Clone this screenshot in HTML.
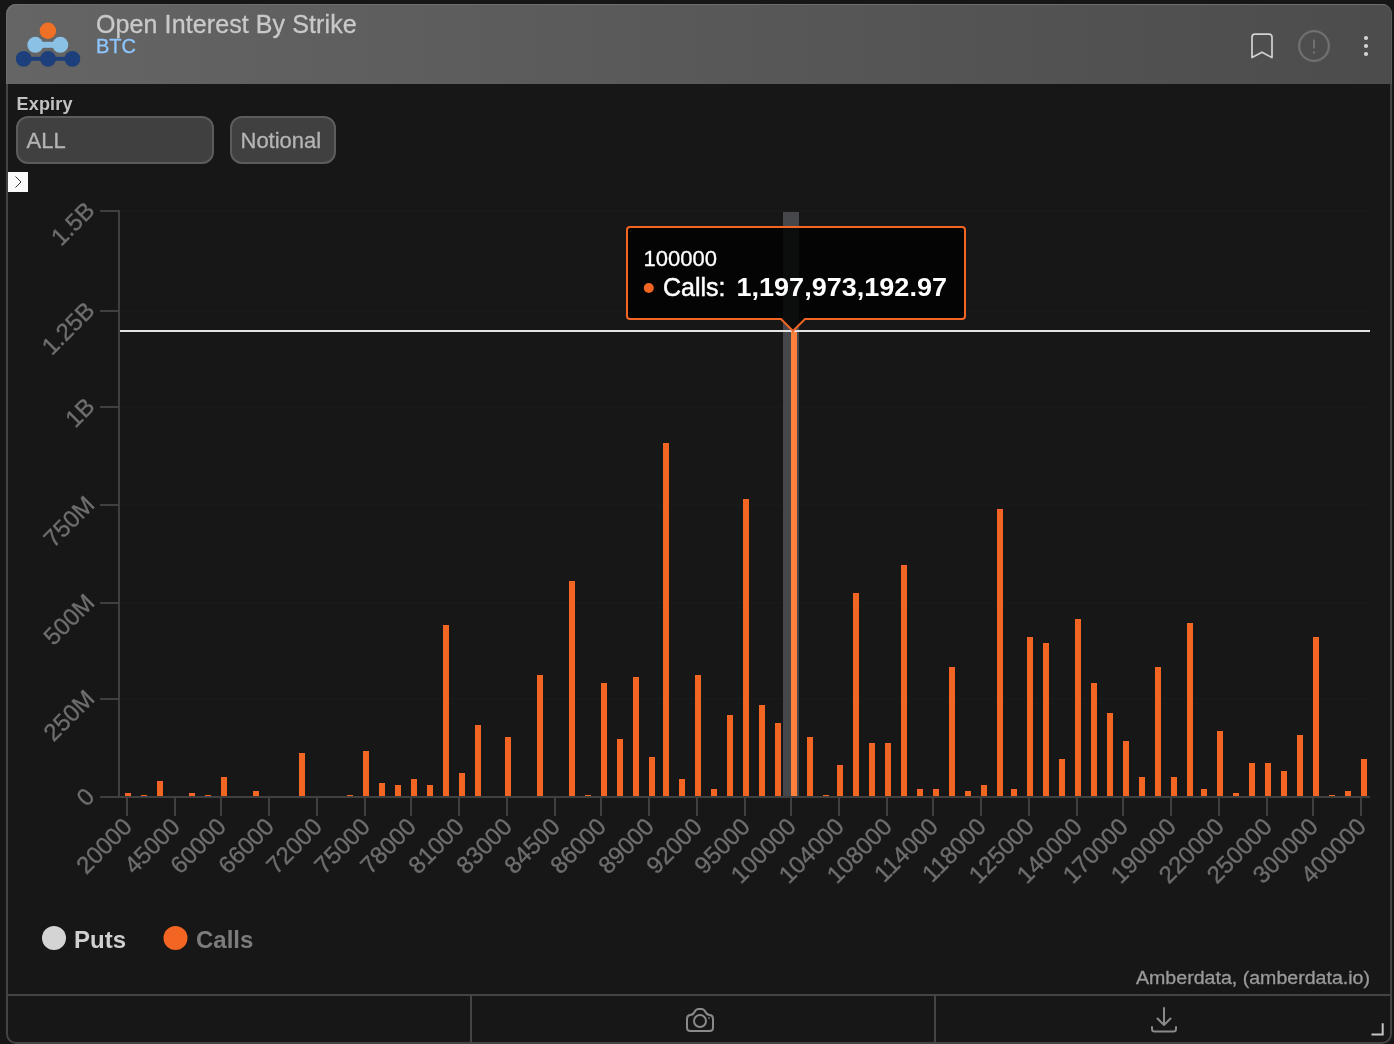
<!DOCTYPE html>
<html><head><meta charset="utf-8"><title>Open Interest By Strike</title>
<style>
html,body{margin:0;padding:0;}
body{width:1394px;height:1044px;overflow:hidden;background:#161616;font-family:"Liberation Sans",sans-serif;position:relative;}
.card{position:absolute;left:6px;top:4px;width:1386px;height:1040px;box-sizing:border-box;border:2px solid #444;border-radius:10px;background:#171717;overflow:hidden;}
.hdr{position:absolute;left:6px;top:4px;width:1386px;height:80px;border-radius:10px 10px 0 0;background:linear-gradient(90deg,#656565 0%,#4c4c4c 100%);box-shadow:inset 1px 1px 0 #6e6e6e, inset -1px 0 0 #5a5a5a;}
.title{-webkit-text-stroke:0.3px;position:absolute;left:96px;top:10px;font-size:25px;letter-spacing:0.1px;color:#c9c9c9;white-space:nowrap;line-height:28px;}
.sub{-webkit-text-stroke:0.3px;position:absolute;left:96px;top:35px;font-size:20px;color:#8ec6ff;white-space:nowrap;line-height:22px;}
.lbl{position:absolute;left:16.5px;top:94px;font-size:18px;letter-spacing:0.2px;font-weight:bold;color:#c2c2c2;line-height:20px;}
.sel{-webkit-text-stroke:0.3px;position:absolute;top:116px;height:48px;box-sizing:border-box;border:2px solid #5c5c5c;border-radius:12px;background:#404040;color:#b4b4b4;font-size:22px;line-height:45px;padding-left:8.5px;white-space:nowrap;}
.exp{position:absolute;left:8px;top:172px;width:20px;height:20px;background:#fafafa;}
.hline{position:absolute;left:8px;top:994px;width:1382px;height:2px;background:#444;}
.vline{position:absolute;top:996px;width:2px;height:46px;background:#444;}
</style></head><body>
<div id="root" style="position:absolute;left:0;top:0;width:1394px;height:1044px;will-change:transform;">
<div class="card"></div>
<div class="hdr"></div>
<svg width="100" height="90" style="position:absolute;left:0;top:0">
 <g fill="#1d3f7b"><circle cx="23.7" cy="58.8" r="7.9"/><circle cx="48" cy="58.8" r="7.9"/><circle cx="72.4" cy="58.8" r="7.9"/><rect x="23.7" y="56.8" width="48.7" height="4"/></g>
 <g fill="#8cc1e6"><circle cx="35.3" cy="44.8" r="8"/><circle cx="60.3" cy="44.8" r="8"/><rect x="35.3" y="41.8" width="25" height="6"/></g>
 <circle cx="47.9" cy="30.8" r="8.2" fill="#f07025"/>
</svg>
<div class="title">Open Interest By Strike</div>
<div class="sub">BTC</div>
<svg width="160" height="84" style="position:absolute;left:1234px;top:0" fill="none">
 <path d="M18 57.6 V37.2 Q18 34.2 21 34.2 H35 Q38 34.2 38 37.2 V57.6 L28 52.2 Z" stroke="#d2d2d2" stroke-width="1.7" stroke-linejoin="round"/>
 <circle cx="80" cy="46" r="14.9" stroke="#707070" stroke-width="2.3"/>
 <rect x="79" y="39.5" width="2" height="9" fill="#6f6f6f"/><circle cx="80" cy="52.5" r="1.3" fill="#6f6f6f"/>
 <circle cx="132" cy="38" r="2.1" fill="#d6d6d6"/><circle cx="132" cy="46" r="2.1" fill="#d6d6d6"/><circle cx="132" cy="54" r="2.1" fill="#d6d6d6"/>
</svg>
<div class="lbl">Expiry</div>
<div class="sel" style="left:16px;width:198px;">ALL</div>
<div class="sel" style="left:230px;width:106px;">Notional</div>
<div class="exp"><svg width="20" height="20"><path d="M7.5 4.5 L13 10 L7.5 15.5" stroke="#333" stroke-width="1" fill="none"/></svg></div>
<svg id="chart" width="1394" height="1044" viewBox="0 0 1394 1044" style="position:absolute;left:0;top:0;will-change:transform" font-family="Liberation Sans, sans-serif">
<rect x="120" y="210" width="1250" height="2" fill="#191919"/>
<rect x="120" y="310" width="1250" height="2" fill="#191919"/>
<rect x="120" y="406" width="1250" height="2" fill="#191919"/>
<rect x="120" y="504" width="1250" height="2" fill="#191919"/>
<rect x="120" y="602" width="1250" height="2" fill="#191919"/>
<rect x="120" y="698" width="1250" height="2" fill="#191919"/>
<rect x="783" y="212" width="16" height="584" fill="#46474b"/>
<rect x="125" y="793" width="6" height="3" fill="#f36523"/>
<rect x="141" y="795" width="6" height="1" fill="#f36523"/>
<rect x="157" y="781" width="6" height="15" fill="#f36523"/>
<rect x="189" y="793" width="6" height="3" fill="#f36523"/>
<rect x="205" y="795" width="6" height="1" fill="#f36523"/>
<rect x="221" y="777" width="6" height="19" fill="#f36523"/>
<rect x="253" y="791" width="6" height="5" fill="#f36523"/>
<rect x="299" y="753" width="6" height="43" fill="#f36523"/>
<rect x="347" y="795" width="6" height="1" fill="#f36523"/>
<rect x="363" y="751" width="6" height="45" fill="#f36523"/>
<rect x="379" y="783" width="6" height="13" fill="#f36523"/>
<rect x="395" y="785" width="6" height="11" fill="#f36523"/>
<rect x="411" y="779" width="6" height="17" fill="#f36523"/>
<rect x="427" y="785" width="6" height="11" fill="#f36523"/>
<rect x="443" y="625" width="6" height="171" fill="#f36523"/>
<rect x="459" y="773" width="6" height="23" fill="#f36523"/>
<rect x="475" y="725" width="6" height="71" fill="#f36523"/>
<rect x="505" y="737" width="6" height="59" fill="#f36523"/>
<rect x="537" y="675" width="6" height="121" fill="#f36523"/>
<rect x="569" y="581" width="6" height="215" fill="#f36523"/>
<rect x="585" y="795" width="6" height="1" fill="#f36523"/>
<rect x="601" y="683" width="6" height="113" fill="#f36523"/>
<rect x="617" y="739" width="6" height="57" fill="#f36523"/>
<rect x="633" y="677" width="6" height="119" fill="#f36523"/>
<rect x="649" y="757" width="6" height="39" fill="#f36523"/>
<rect x="663" y="443" width="6" height="353" fill="#f36523"/>
<rect x="679" y="779" width="6" height="17" fill="#f36523"/>
<rect x="695" y="675" width="6" height="121" fill="#f36523"/>
<rect x="711" y="789" width="6" height="7" fill="#f36523"/>
<rect x="727" y="715" width="6" height="81" fill="#f36523"/>
<rect x="743" y="499" width="6" height="297" fill="#f36523"/>
<rect x="759" y="705" width="6" height="91" fill="#f36523"/>
<rect x="775" y="723" width="6" height="73" fill="#f36523"/>
<rect x="791" y="331" width="6" height="465" fill="#ff7f3d"/>
<rect x="807" y="737" width="6" height="59" fill="#f36523"/>
<rect x="823" y="795" width="6" height="1" fill="#f36523"/>
<rect x="837" y="765" width="6" height="31" fill="#f36523"/>
<rect x="853" y="593" width="6" height="203" fill="#f36523"/>
<rect x="869" y="743" width="6" height="53" fill="#f36523"/>
<rect x="885" y="743" width="6" height="53" fill="#f36523"/>
<rect x="901" y="565" width="6" height="231" fill="#f36523"/>
<rect x="917" y="789" width="6" height="7" fill="#f36523"/>
<rect x="933" y="789" width="6" height="7" fill="#f36523"/>
<rect x="949" y="667" width="6" height="129" fill="#f36523"/>
<rect x="965" y="791" width="6" height="5" fill="#f36523"/>
<rect x="981" y="785" width="6" height="11" fill="#f36523"/>
<rect x="997" y="509" width="6" height="287" fill="#f36523"/>
<rect x="1011" y="789" width="6" height="7" fill="#f36523"/>
<rect x="1027" y="637" width="6" height="159" fill="#f36523"/>
<rect x="1043" y="643" width="6" height="153" fill="#f36523"/>
<rect x="1059" y="759" width="6" height="37" fill="#f36523"/>
<rect x="1075" y="619" width="6" height="177" fill="#f36523"/>
<rect x="1091" y="683" width="6" height="113" fill="#f36523"/>
<rect x="1107" y="713" width="6" height="83" fill="#f36523"/>
<rect x="1123" y="741" width="6" height="55" fill="#f36523"/>
<rect x="1139" y="777" width="6" height="19" fill="#f36523"/>
<rect x="1155" y="667" width="6" height="129" fill="#f36523"/>
<rect x="1171" y="777" width="6" height="19" fill="#f36523"/>
<rect x="1187" y="623" width="6" height="173" fill="#f36523"/>
<rect x="1201" y="789" width="6" height="7" fill="#f36523"/>
<rect x="1217" y="731" width="6" height="65" fill="#f36523"/>
<rect x="1233" y="793" width="6" height="3" fill="#f36523"/>
<rect x="1249" y="763" width="6" height="33" fill="#f36523"/>
<rect x="1265" y="763" width="6" height="33" fill="#f36523"/>
<rect x="1281" y="771" width="6" height="25" fill="#f36523"/>
<rect x="1297" y="735" width="6" height="61" fill="#f36523"/>
<rect x="1313" y="637" width="6" height="159" fill="#f36523"/>
<rect x="1329" y="795" width="6" height="1" fill="#f36523"/>
<rect x="1345" y="791" width="6" height="5" fill="#f36523"/>
<rect x="1361" y="759" width="6" height="37" fill="#f36523"/>
<rect x="118" y="210" width="2" height="588" fill="#404040"/>
<rect x="100" y="796" width="1270" height="2" fill="#404040"/>
<rect x="100" y="210" width="20" height="2" fill="#404040"/>
<rect x="100" y="310" width="20" height="2" fill="#404040"/>
<rect x="100" y="406" width="20" height="2" fill="#404040"/>
<rect x="100" y="504" width="20" height="2" fill="#404040"/>
<rect x="100" y="602" width="20" height="2" fill="#404040"/>
<rect x="100" y="698" width="20" height="2" fill="#404040"/>
<rect x="126" y="798" width="2" height="18" fill="#404040"/>
<rect x="174" y="798" width="2" height="18" fill="#404040"/>
<rect x="220" y="798" width="2" height="18" fill="#404040"/>
<rect x="268" y="798" width="2" height="18" fill="#404040"/>
<rect x="316" y="798" width="2" height="18" fill="#404040"/>
<rect x="364" y="798" width="2" height="18" fill="#404040"/>
<rect x="410" y="798" width="2" height="18" fill="#404040"/>
<rect x="458" y="798" width="2" height="18" fill="#404040"/>
<rect x="506" y="798" width="2" height="18" fill="#404040"/>
<rect x="554" y="798" width="2" height="18" fill="#404040"/>
<rect x="600" y="798" width="2" height="18" fill="#404040"/>
<rect x="648" y="798" width="2" height="18" fill="#404040"/>
<rect x="696" y="798" width="2" height="18" fill="#404040"/>
<rect x="744" y="798" width="2" height="18" fill="#404040"/>
<rect x="790" y="798" width="2" height="18" fill="#404040"/>
<rect x="838" y="798" width="2" height="18" fill="#404040"/>
<rect x="886" y="798" width="2" height="18" fill="#404040"/>
<rect x="932" y="798" width="2" height="18" fill="#404040"/>
<rect x="980" y="798" width="2" height="18" fill="#404040"/>
<rect x="1028" y="798" width="2" height="18" fill="#404040"/>
<rect x="1076" y="798" width="2" height="18" fill="#404040"/>
<rect x="1122" y="798" width="2" height="18" fill="#404040"/>
<rect x="1170" y="798" width="2" height="18" fill="#404040"/>
<rect x="1218" y="798" width="2" height="18" fill="#404040"/>
<rect x="1266" y="798" width="2" height="18" fill="#404040"/>
<rect x="1312" y="798" width="2" height="18" fill="#404040"/>
<rect x="1360" y="798" width="2" height="18" fill="#404040"/>
<text x="96" y="212" text-anchor="end" font-size="24" fill="#6e6e6e" stroke="#6e6e6e" stroke-width="0.35" transform="rotate(-45 96 212)">1.5B</text>
<text x="96" y="312" text-anchor="end" font-size="24" fill="#6e6e6e" stroke="#6e6e6e" stroke-width="0.35" transform="rotate(-45 96 312)">1.25B</text>
<text x="96" y="408" text-anchor="end" font-size="24" fill="#6e6e6e" stroke="#6e6e6e" stroke-width="0.35" transform="rotate(-45 96 408)">1B</text>
<text x="96" y="506" text-anchor="end" font-size="24" fill="#6e6e6e" stroke="#6e6e6e" stroke-width="0.35" transform="rotate(-45 96 506)">750M</text>
<text x="96" y="604" text-anchor="end" font-size="24" fill="#6e6e6e" stroke="#6e6e6e" stroke-width="0.35" transform="rotate(-45 96 604)">500M</text>
<text x="96" y="700" text-anchor="end" font-size="24" fill="#6e6e6e" stroke="#6e6e6e" stroke-width="0.35" transform="rotate(-45 96 700)">250M</text>
<text x="96" y="798" text-anchor="end" font-size="24" fill="#6e6e6e" stroke="#6e6e6e" stroke-width="0.35" transform="rotate(-45 96 798)">0</text>
<text x="133.5" y="828" text-anchor="end" font-size="24" fill="#6e6e6e" stroke="#6e6e6e" stroke-width="0.35" transform="rotate(-45 133.5 828)">20000</text>
<text x="181.5" y="828" text-anchor="end" font-size="24" fill="#6e6e6e" stroke="#6e6e6e" stroke-width="0.35" transform="rotate(-45 181.5 828)">45000</text>
<text x="227.5" y="828" text-anchor="end" font-size="24" fill="#6e6e6e" stroke="#6e6e6e" stroke-width="0.35" transform="rotate(-45 227.5 828)">60000</text>
<text x="275.5" y="828" text-anchor="end" font-size="24" fill="#6e6e6e" stroke="#6e6e6e" stroke-width="0.35" transform="rotate(-45 275.5 828)">66000</text>
<text x="323.5" y="828" text-anchor="end" font-size="24" fill="#6e6e6e" stroke="#6e6e6e" stroke-width="0.35" transform="rotate(-45 323.5 828)">72000</text>
<text x="371.5" y="828" text-anchor="end" font-size="24" fill="#6e6e6e" stroke="#6e6e6e" stroke-width="0.35" transform="rotate(-45 371.5 828)">75000</text>
<text x="417.5" y="828" text-anchor="end" font-size="24" fill="#6e6e6e" stroke="#6e6e6e" stroke-width="0.35" transform="rotate(-45 417.5 828)">78000</text>
<text x="465.5" y="828" text-anchor="end" font-size="24" fill="#6e6e6e" stroke="#6e6e6e" stroke-width="0.35" transform="rotate(-45 465.5 828)">81000</text>
<text x="513.5" y="828" text-anchor="end" font-size="24" fill="#6e6e6e" stroke="#6e6e6e" stroke-width="0.35" transform="rotate(-45 513.5 828)">83000</text>
<text x="561.5" y="828" text-anchor="end" font-size="24" fill="#6e6e6e" stroke="#6e6e6e" stroke-width="0.35" transform="rotate(-45 561.5 828)">84500</text>
<text x="607.5" y="828" text-anchor="end" font-size="24" fill="#6e6e6e" stroke="#6e6e6e" stroke-width="0.35" transform="rotate(-45 607.5 828)">86000</text>
<text x="655.5" y="828" text-anchor="end" font-size="24" fill="#6e6e6e" stroke="#6e6e6e" stroke-width="0.35" transform="rotate(-45 655.5 828)">89000</text>
<text x="703.5" y="828" text-anchor="end" font-size="24" fill="#6e6e6e" stroke="#6e6e6e" stroke-width="0.35" transform="rotate(-45 703.5 828)">92000</text>
<text x="751.5" y="828" text-anchor="end" font-size="24" fill="#6e6e6e" stroke="#6e6e6e" stroke-width="0.35" transform="rotate(-45 751.5 828)">95000</text>
<text x="797.5" y="828" text-anchor="end" font-size="24" fill="#6e6e6e" stroke="#6e6e6e" stroke-width="0.35" transform="rotate(-45 797.5 828)">100000</text>
<text x="845.5" y="828" text-anchor="end" font-size="24" fill="#6e6e6e" stroke="#6e6e6e" stroke-width="0.35" transform="rotate(-45 845.5 828)">104000</text>
<text x="893.5" y="828" text-anchor="end" font-size="24" fill="#6e6e6e" stroke="#6e6e6e" stroke-width="0.35" transform="rotate(-45 893.5 828)">108000</text>
<text x="939.5" y="828" text-anchor="end" font-size="24" fill="#6e6e6e" stroke="#6e6e6e" stroke-width="0.35" transform="rotate(-45 939.5 828)">114000</text>
<text x="987.5" y="828" text-anchor="end" font-size="24" fill="#6e6e6e" stroke="#6e6e6e" stroke-width="0.35" transform="rotate(-45 987.5 828)">118000</text>
<text x="1035.5" y="828" text-anchor="end" font-size="24" fill="#6e6e6e" stroke="#6e6e6e" stroke-width="0.35" transform="rotate(-45 1035.5 828)">125000</text>
<text x="1083.5" y="828" text-anchor="end" font-size="24" fill="#6e6e6e" stroke="#6e6e6e" stroke-width="0.35" transform="rotate(-45 1083.5 828)">140000</text>
<text x="1129.5" y="828" text-anchor="end" font-size="24" fill="#6e6e6e" stroke="#6e6e6e" stroke-width="0.35" transform="rotate(-45 1129.5 828)">170000</text>
<text x="1177.5" y="828" text-anchor="end" font-size="24" fill="#6e6e6e" stroke="#6e6e6e" stroke-width="0.35" transform="rotate(-45 1177.5 828)">190000</text>
<text x="1225.5" y="828" text-anchor="end" font-size="24" fill="#6e6e6e" stroke="#6e6e6e" stroke-width="0.35" transform="rotate(-45 1225.5 828)">220000</text>
<text x="1273.5" y="828" text-anchor="end" font-size="24" fill="#6e6e6e" stroke="#6e6e6e" stroke-width="0.35" transform="rotate(-45 1273.5 828)">250000</text>
<text x="1319.5" y="828" text-anchor="end" font-size="24" fill="#6e6e6e" stroke="#6e6e6e" stroke-width="0.35" transform="rotate(-45 1319.5 828)">300000</text>
<text x="1367.5" y="828" text-anchor="end" font-size="24" fill="#6e6e6e" stroke="#6e6e6e" stroke-width="0.35" transform="rotate(-45 1367.5 828)">400000</text>
<rect x="120" y="330" width="1250" height="2" fill="#e4e4e4"/>
<circle cx="54" cy="938" r="12" fill="#d4d4d4"/>
<text x="74" y="948" font-size="24" font-weight="bold" fill="#d0d0d0">Puts</text>
<circle cx="175.5" cy="938" r="12" fill="#f36523"/>
<text x="196" y="948" font-size="24" font-weight="bold" fill="#7c7c7c">Calls</text>
<text x="1370" y="984" text-anchor="end" font-size="18" fill="#9a9a9a" stroke="#9a9a9a" stroke-width="0.3" textLength="234" lengthAdjust="spacingAndGlyphs">Amberdata, (amberdata.io)</text>
<g>
<path d="M 630 227 H 962 Q 965 227 965 230 V 316 Q 965 319 962 319 H 805 L 793 331 L 781 319 H 630 Q 627 319 627 316 V 230 Q 627 227 630 227 Z" fill="rgba(0,0,0,0.82)" stroke="#f36523" stroke-width="2"/>
<text x="643.5" y="266" font-size="22.5" fill="#ffffff" stroke="#ffffff" stroke-width="0.3" textLength="73.5" lengthAdjust="spacingAndGlyphs">100000</text>
<circle cx="648.8" cy="288" r="5" fill="#f36523"/>
<text x="663" y="295.5" font-size="26" fill="#ffffff" stroke="#ffffff" stroke-width="0.5" textLength="62.5" lengthAdjust="spacingAndGlyphs">Calls:</text>
<text x="736.5" y="295.5" font-size="26" font-weight="bold" fill="#ffffff" textLength="210.5" lengthAdjust="spacingAndGlyphs">1,197,973,192.97</text>
</g>
</svg>
<div class="hline"></div>
<div class="vline" style="left:470px"></div>
<div class="vline" style="left:934px"></div>
<svg width="40" height="40" style="position:absolute;left:680px;top:1000px" fill="none" stroke="#8a8a8a" stroke-width="2">
 <path d="M10 15 Q13 15 14.5 12 Q16 9 18.5 9 H21.5 Q24 9 25.5 12 Q27 15 30 15 Q33 15.500 33 19 V27.500 Q33 31 29.500 31 H10.500 Q7 31 7 27.500 V19 Q7 15.500 10 15 Z"/>
 <circle cx="20" cy="21" r="6"/>
 <rect x="28.300" y="17.200" width="1.500" height="1.500" fill="#8a8a8a" stroke="none"/>
</svg>
<svg width="40" height="40" style="position:absolute;left:1144px;top:1000px" fill="none" stroke="#8a8a8a" stroke-width="2" stroke-linecap="round" stroke-linejoin="round">
 <path d="M20 8 V25 M13.5 18.500 L20 25 L26.500 18.500"/>
 <path d="M8 27 V29 Q8 31.500 10.500 31.500 H29.500 Q32 31.500 32 29 V27"/>
</svg>
<svg width="20" height="20" style="position:absolute;left:1368px;top:1020px" fill="none" stroke="#c4c4c4" stroke-width="2">
 <path d="M3.500 14.500 H14.700 V3.200"/>
</svg>
</div>
</body></html>
